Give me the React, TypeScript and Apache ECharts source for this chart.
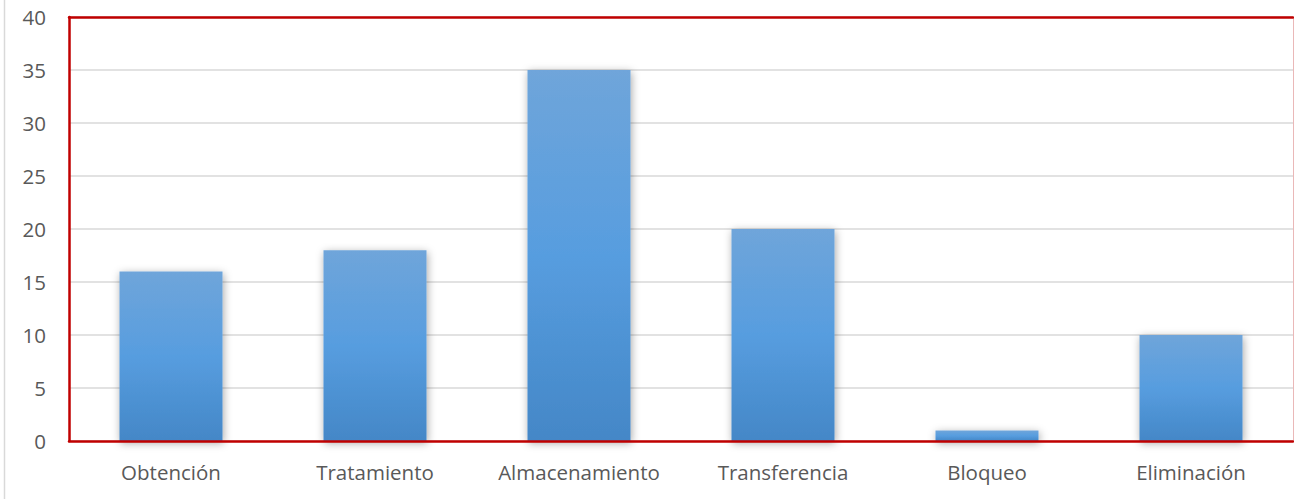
import React, { useEffect, useRef } from "react";
import * as echarts from "echarts";

const categories = ["Obtención", "Tratamiento", "Almacenamiento", "Transferencia", "Bloqueo", "Eliminación"];
const values = [16, 18, 35, 20, 1, 10];
const yTicks = { min: 0, max: 40, interval: 5 };

const RED = "#c00000";
const LABEL = { color: "#595959", fontSize: 20.5 };

// Bare axis used only to draw one edge of the plot frame above the bars.
const frameX = (position: string) => ({
  type: "category",
  data: categories,
  position,
  z: 5,
  axisLine: { show: true, onZero: false, lineStyle: { color: RED, width: 2.5 } },
  axisTick: { show: false },
  axisLabel: { show: false },
  splitLine: { show: false },
});

const frameY = (position: string, color: string, width: number) => ({
  type: "value",
  position,
  min: yTicks.min,
  max: yTicks.max,
  interval: yTicks.interval,
  z: 5,
  axisLine: { show: true, onZero: false, lineStyle: { color, width } },
  axisTick: { show: false },
  axisLabel: { show: false },
  splitLine: { show: false },
});

export default function App() {
  const ref = useRef<HTMLDivElement>(null);

  useEffect(() => {
    document.body.style.margin = "0";
    const chart = echarts.init(ref.current!, undefined, { renderer: "svg" });
    chart.setOption({
      animation: false,
      backgroundColor: "#ffffff",
      textStyle: { fontFamily: "Open Sans, Noto Sans, sans-serif" },
      grid: { left: 69, top: 17, right: 1, bottom: 58 },
      graphic: [
        {
          type: "line",
          shape: { x1: 4.5, y1: 0, x2: 4.5, y2: 499 },
          style: { stroke: "#d9d9d9", lineWidth: 1.5 },
          z: 10,
        },
      ],
      xAxis: [
        {
          type: "category",
          data: categories,
          position: "bottom",
          axisLine: { show: false },
          axisTick: { show: false },
          axisLabel: { ...LABEL, margin: 20, interval: 0 },
        },
        frameX("bottom"),
        frameX("top"),
      ],
      yAxis: [
        {
          type: "value",
          position: "left",
          min: yTicks.min,
          max: yTicks.max,
          interval: yTicks.interval,
          axisLine: { show: false },
          axisTick: { show: false },
          axisLabel: { ...LABEL, margin: 23 },
          splitLine: { lineStyle: { color: "#d9d9d9", width: 1.5 } },
        },
        frameY("left", RED, 2.5),
        frameY("right", "#eab8b8", 1),
      ],
      series: [
        {
          type: "bar",
          data: values,
          barWidth: "50.5%",
          itemStyle: {
            color: new echarts.graphic.LinearGradient(0, 0, 0, 1, [
              { offset: 0, color: "#6fa5da" },
              { offset: 0.5, color: "#579ddf" },
              { offset: 1, color: "#4487c7" },
            ]),
            shadowBlur: 8,
            shadowColor: "rgba(0,0,0,0.35)",
            shadowOffsetX: 1,
            shadowOffsetY: 2,
          },
        },
      ],
    });
    return () => chart.dispose();
  }, []);

  return <div ref={ref} style={{ width: 1294, height: 499 }} />;
}
